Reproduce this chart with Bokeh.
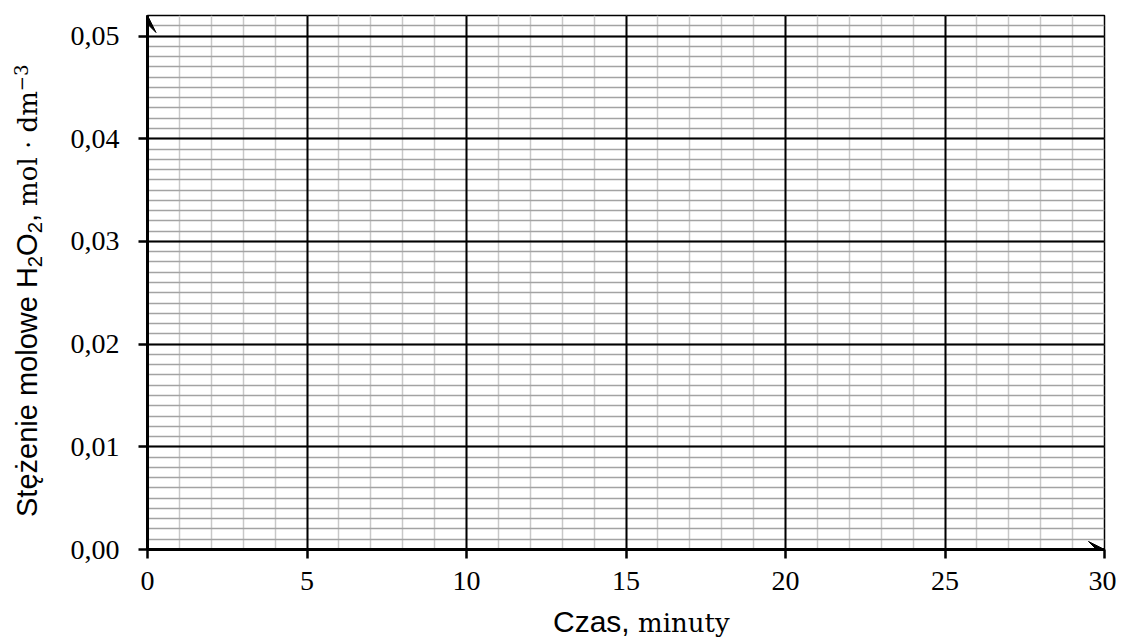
from bokeh.plotting import figure
from bokeh.models import (Range1d, FixedTicker, SingleIntervalTicker, Grid, Arrow, VeeHead,
                          CustomJSTickFormatter, Div)
from bokeh.layouts import row, column
from bokeh.embed import file_html
from bokeh.resources import INLINE

# ---- data (axis ticks / labels) ----
x_ticks = [0, 5, 10, 15, 20, 25, 30]
x_tick_labels = ["0", "5", "10", "15", "20", "25", "30"]
y_ticks = [0.00, 0.01, 0.02, 0.03, 0.04, 0.05]
y_tick_labels = ["0,00", "0,01", "0,02", "0,03", "0,04", "0,05"]
x_min, x_max = 0, 30
y_min, y_max = 0.0, 0.052
x_minor_step = 1
y_minor_step = 0.001
x_label_sans = "Czas, "
x_label_serif = "minuty"
y_label_sans = "Stężenie molowe H<sub>2</sub>O<sub>2</sub>, "
y_label_serif = "mol · dm<sup>−3</sup>"

YDIV_W = 50
TOTAL_H = 642

p = figure(frame_width=957, frame_height=534,
           x_range=Range1d(x_min, x_max), y_range=Range1d(y_min, y_max),
           output_backend="svg", toolbar_location=None,
           min_border_left=97, min_border_right=12, min_border_top=15, min_border_bottom=52,
           background_fill_color="white", border_fill_color="white", margin=(0, 0, 0, 0))

p.xgrid.visible = False
p.ygrid.visible = False
p.outline_line_color = "black"
p.outline_line_width = 1.5

# minor grids
p.add_layout(Grid(dimension=0, ticker=SingleIntervalTicker(interval=x_minor_step, num_minor_ticks=0),
                  grid_line_color="#c8c8c8", grid_line_width=1.5))
p.add_layout(Grid(dimension=1, ticker=SingleIntervalTicker(interval=y_minor_step, num_minor_ticks=0),
                  grid_line_color="#a3a3a3", grid_line_width=1.5))
# major grids
p.add_layout(Grid(dimension=0, ticker=FixedTicker(ticks=x_ticks),
                  grid_line_color="black", grid_line_width=2))
p.add_layout(Grid(dimension=1, ticker=FixedTicker(ticks=y_ticks),
                  grid_line_color="black", grid_line_width=2))

fmt_code = """
let best = 0; let bd = Infinity;
for (let i = 0; i < tvals.length; i++) { const d = Math.abs(tvals[i] - tick); if (d < bd) { bd = d; best = i; } }
return tlabels[best];
"""

for ax, ticks, labels in ((p.xaxis[0], x_ticks, x_tick_labels), (p.yaxis[0], y_ticks, y_tick_labels)):
    ax.ticker = FixedTicker(ticks=ticks)
    ax.formatter = CustomJSTickFormatter(args=dict(tvals=ticks, tlabels=labels), code=fmt_code)
    ax.axis_line_color = "black"
    ax.axis_line_width = 3
    ax.major_tick_line_color = "black"
    ax.major_tick_line_width = 2.5
    ax.major_tick_out = 9
    ax.major_tick_in = 0
    ax.minor_tick_line_color = None
    ax.major_label_text_font = "Liberation Serif"
    ax.major_label_text_font_size = "28px"
    ax.major_label_text_color = "black"

p.yaxis.major_label_standoff = 19
p.xaxis.major_label_standoff = 13

# axis arrows
p.add_layout(Arrow(end=VeeHead(size=17, fill_color="black", line_color="black", line_width=1),
                   x_start=x_min, y_start=y_min, x_end=x_min, y_end=y_max,
                   line_color="black", line_width=3))
p.add_layout(Arrow(end=VeeHead(size=16, fill_color="black", line_color="black", line_width=1),
                   x_start=x_min, y_start=y_min, x_end=x_max, y_end=y_min,
                   line_color="black", line_width=3))

plot_w = 97 + 957 + 12
plot_h = 15 + 534 + 52

sub_css = "font-size:0.7em;vertical-align:-0.25em;line-height:0"
sup_css = "font-size:0.7em;vertical-align:0.5em;line-height:0"

y_html = (
    f'<div style="position:relative;width:{YDIV_W}px;height:{TOTAL_H}px;overflow:hidden">'
    f'<div style="position:absolute;left:0;top:0;width:{TOTAL_H}px;height:{YDIV_W}px;'
    f'transform-origin:0 0;transform:translate(0,{TOTAL_H}px) rotate(-90deg);'
    f'white-space:nowrap;box-sizing:border-box;padding-left:125px;padding-top:12px;'
    f'line-height:30px;color:black">'
    f'<span style="font-family:\'Liberation Sans\';font-size:29px">'
    + y_label_sans.replace("<sub>", f'<span style="{sub_css}">').replace("</sub>", "</span>")
    + '</span>'
    f'<span style="font-family:\'DejaVu Serif\';font-size:26px">'
    + y_label_serif.replace("<sup>", f'<span style="{sup_css}">').replace("</sup>", "</span>")
    + '</span></div></div>'
)
ydiv = Div(text=y_html, width=YDIV_W, height=TOTAL_H, margin=(0, 0, 0, 0))

xdiv_h = TOTAL_H - plot_h
x_html = (
    f'<div style="position:relative;width:{plot_w}px;height:{xdiv_h}px;overflow:hidden">'
    f'<div style="position:absolute;left:0;top:0;white-space:nowrap;box-sizing:border-box;'
    f'padding-left:{553 - YDIV_W}px;padding-top:6px;line-height:30px;color:black">'
    f'<span style="font-family:\'Liberation Sans\';font-size:30px">{x_label_sans}</span>'
    f'<span style="font-family:\'DejaVu Serif\';font-size:26px">{x_label_serif}</span>'
    '</div></div>'
)
xdiv = Div(text=x_html, width=plot_w, height=xdiv_h, margin=(0, 0, 0, 0))

layout = row(ydiv, column(p, xdiv, spacing=0), spacing=0)

open("out.html", "w").write(file_html(layout, INLINE))
